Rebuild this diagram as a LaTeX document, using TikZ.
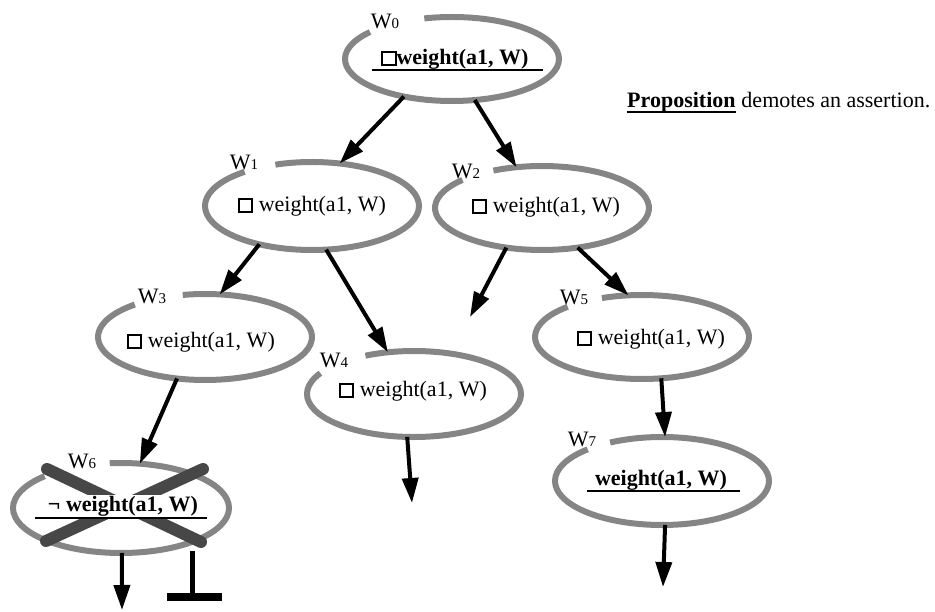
\documentclass[tikz,border=0pt]{standalone}
\usepackage{fontspec}
\setmainfont{Liberation Serif}
\usetikzlibrary{arrows.meta,shapes.geometric}
\newcommand\sqbox{{\setlength{\fboxrule}{1.8pt}\setlength{\fboxsep}{0pt}\fbox{\rule{0pt}{11.5pt}\rule{11.5pt}{0pt}}}}
\newcommand\wl[1]{W{\fontsize{15}{15}\selectfont #1}}
\begin{document}
\begin{tikzpicture}[x=1pt,y=1pt,
  ellnode/.style={ellipse, draw=none, inner sep=0pt, outer sep=0pt},
  ellstroke/.style={draw=black!48, line width=6pt},
  wlabel/.style={font=\fontsize{22}{22}\selectfont, inner sep=0pt},
  prop/.style={font=\fontsize{22}{22}\selectfont, inner sep=1pt},
  bprop/.style={font=\fontsize{22}{22}\selectfont\bfseries, inner sep=1pt},
  arr/.style={line width=4pt, -{Triangle[length=25pt,width=16pt]}},
  uline/.style={line width=2pt},
  cross/.style={line width=12pt, draw=black!72, line cap=round},
]
\useasboundingbox (0,0) rectangle (935,-612);

% ellipse nodes (invisible) and their gapped outlines
\node[ellnode, minimum width=214pt, minimum height=84pt] (w0) at (452,-59) {};
\draw[ellstroke] (w0.center) ++(140:107 and 42) arc[start angle=140, end angle=465, x radius=107, y radius=42];
\node[ellnode, minimum width=214pt, minimum height=88pt] (w1) at (312,-206) {};
\draw[ellstroke] (w1.center) ++(129:107 and 44) arc[start angle=129, end angle=470, x radius=107, y radius=44];
\node[ellnode, minimum width=214pt, minimum height=84pt] (w2) at (542,-208) {};
\draw[ellstroke] (w2.center) ++(138:107 and 42) arc[start angle=138, end angle=477, x radius=107, y radius=42];
\node[ellnode, minimum width=214pt, minimum height=86pt] (w3) at (205,-337) {};
\draw[ellstroke] (w3.center) ++(131:107 and 43) arc[start angle=131, end angle=462, x radius=107, y radius=43];
\node[ellnode, minimum width=214pt, minimum height=86pt] (w4) at (414,-394) {};
\draw[ellstroke] (w4.center) ++(151:107 and 43) arc[start angle=151, end angle=477, x radius=107, y radius=43];
\node[ellnode, minimum width=214pt, minimum height=84pt] (w5) at (642,-337) {};
\draw[ellstroke] (w5.center) ++(134:107 and 42) arc[start angle=134, end angle=472, x radius=107, y radius=42];
\node[ellnode, minimum width=216pt, minimum height=90pt] (w6) at (121,-508) {};
\draw[ellstroke] (w6.center) ++(135:108 and 45) arc[start angle=135, end angle=456, x radius=108, y radius=45];
\node[ellnode, minimum width=214pt, minimum height=88pt] (w7) at (662,-481) {};
\draw[ellstroke] (w7.center) ++(134:107 and 44) arc[start angle=134, end angle=479, x radius=107, y radius=44];

% labels
\node[wlabel] (l0) at (385,-21) {\wl{0}};
\node[wlabel] (l1) at (244,-162) {\wl{1}};
\node[wlabel] (l2) at (466,-171) {\wl{2}};
\node[wlabel] (l3) at (152,-296) {\wl{3}};
\node[wlabel] (l4) at (334,-360) {\wl{4}};
\node[wlabel] (l5) at (574,-297) {\wl{5}};
\node[wlabel] (l6) at (82,-461) {\wl{6}};
\node[wlabel] (l7) at (582,-439) {\wl{7}};

% cross over W6
\draw[cross] (47,-469) -- (201,-542);
\draw[cross] (203,-469) -- (46,-541);

% texts
\node[bprop] (t0) at (455,-59) {\sqbox weight(a1, W)};
\node[prop] (t1) at (312,-206) {\sqbox\ weight(a1, W)};
\node[prop] (t2) at (546,-207) {\sqbox\ weight(a1, W)};
\node[prop] (t3) at (201,-342) {\sqbox\ weight(a1, W)};
\node[prop] (t4) at (413,-391) {\sqbox\ weight(a1, W)};
\node[prop] (t5) at (651,-339) {\sqbox\ weight(a1, W)};
\node[bprop, fill=white] (t6) at (123,-506) {¬ weight(a1, W)};
\node[bprop] (t7) at (661,-480) {weight(a1, W)};

% underlines (assertions)
\draw[uline] (372,-70) -- (543,-70);
\draw[uline] (35,-518) -- (207,-518);
\draw[uline] (587,-491) -- (740,-491);

% connectors
\coordinate (d2) at (470,-317);
\coordinate (d4) at (412,-503);
\coordinate (d6) at (122,-610);
\coordinate (d7) at (663,-587);
\draw[arr] (w0.-142) -- (w1.57);
\draw[arr] (w0.-61) -- (w2.122);
\draw[arr] (w1.-144) -- (w3.71);
\draw[arr] (w1.-72) -- (w4.122);
\draw[arr] (w2.-132) -- (d2);
\draw[arr] (w2.-48) -- (w5.108);
\draw[arr] (w3.-124) -- (w6.67);
\draw[arr] (w4.-99) -- (d4);
\draw[arr] (w5.-65) -- (w7.86);
\draw[arr] (w6.-89) -- (d6);
\draw[arr] (w7.-86) -- (d7);

% bottom (falsum) mark under W6
\draw[line width=5pt] ([yshift=-9pt]w6.-25) -- ++(0,-46) coordinate (tb);
\draw[line width=8pt] ([xshift=-26pt]tb) -- ([xshift=29pt]tb);

% legend
\node[bprop, inner sep=0pt, anchor=base west] (legp) at (627,-108) {Proposition};
\node[prop, inner sep=0pt, anchor=base west] (legr) at (legp.base east) {\ demotes an assertion.};
\draw[uline] ([yshift=-4pt]legp.base west) -- ([yshift=-4pt]legp.base east);
\end{tikzpicture}
\end{document}
